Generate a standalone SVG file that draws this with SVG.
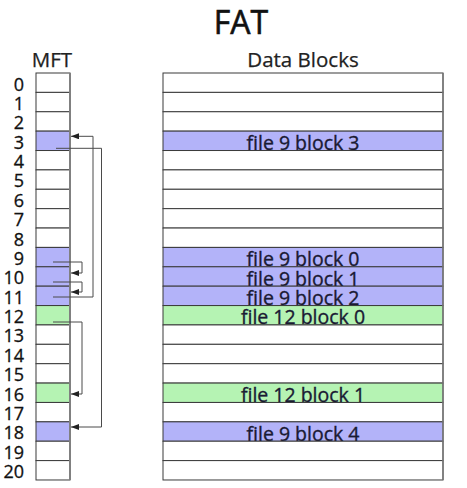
<svg xmlns="http://www.w3.org/2000/svg" width="467" height="488" viewBox="0 0 467 488">
<defs>
<style>
.t{font-family:"Open Sans","Liberation Sans",sans-serif;fill:#111}
.title{font-size:32px;text-anchor:middle;stroke:#111;stroke-width:0.6}
.hdr{font-size:20.5px;text-anchor:middle;fill:#222;stroke:#222;stroke-width:0.25}
.num{font-size:18px;text-anchor:end;fill:#111;stroke:#111;stroke-width:0.3}
.lbl{font-size:19.5px;text-anchor:middle;fill:#1a1a33;stroke:#1a1a33;stroke-width:0.35}
.r{fill:#fff;stroke:#3a3a3a;stroke-width:1}
.b{fill:#b3b3f9}
.g{fill:#b5f3b3}
.c{fill:none;stroke:#4a4a4a;stroke-width:1}
</style>
<marker id="ah" viewBox="0 0 8 6" refX="8" refY="3" markerWidth="8" markerHeight="6" markerUnits="userSpaceOnUse" orient="auto">
<path d="M0,0 L8,3 L0,6 z" fill="#222"/>
</marker>
</defs>
<rect width="467" height="488" fill="#fff"/>
<text class="t title" x="241" y="34">FAT</text>
<text class="t hdr" x="52" y="67">MFT</text>
<text class="t hdr" x="303" y="67">Data Blocks</text>

<g id="mft">
<g id="mft-0"><rect class="r" x="36" y="73" width="34" height="19.38"/><text class="t num" x="24" y="90.5">0</text></g>
<g id="mft-1"><rect class="r" x="36" y="92.38" width="34" height="19.38"/><text class="t num" x="24" y="109.9">1</text></g>
<g id="mft-2"><rect class="r" x="36" y="111.76" width="34" height="19.38"/><text class="t num" x="24" y="129.3">2</text></g>
<g id="mft-3"><rect class="r b" x="36" y="131.14" width="34" height="19.38"/><text class="t num" x="24" y="148.6">3</text></g>
<g id="mft-4"><rect class="r" x="36" y="150.52" width="34" height="19.38"/><text class="t num" x="24" y="168">4</text></g>
<g id="mft-5"><rect class="r" x="36" y="169.9" width="34" height="19.38"/><text class="t num" x="24" y="187.4">5</text></g>
<g id="mft-6"><rect class="r" x="36" y="189.28" width="34" height="19.38"/><text class="t num" x="24" y="206.8">6</text></g>
<g id="mft-7"><rect class="r" x="36" y="208.66" width="34" height="19.38"/><text class="t num" x="24" y="226.2">7</text></g>
<g id="mft-8"><rect class="r" x="36" y="228.04" width="34" height="19.38"/><text class="t num" x="24" y="245.5">8</text></g>
<g id="mft-9"><rect class="r b" x="36" y="247.42" width="34" height="19.38"/><text class="t num" x="24" y="264.9">9</text></g>
<g id="mft-10"><rect class="r b" x="36" y="266.8" width="34" height="19.38"/><text class="t num" x="24" y="284.3">10</text></g>
<g id="mft-11"><rect class="r b" x="36" y="286.18" width="34" height="19.38"/><text class="t num" x="24" y="303.7">11</text></g>
<g id="mft-12"><rect class="r g" x="36" y="305.56" width="34" height="19.38"/><text class="t num" x="24" y="323.1">12</text></g>
<g id="mft-13"><rect class="r" x="36" y="324.94" width="34" height="19.38"/><text class="t num" x="24" y="342.4">13</text></g>
<g id="mft-14"><rect class="r" x="36" y="344.32" width="34" height="19.38"/><text class="t num" x="24" y="361.8">14</text></g>
<g id="mft-15"><rect class="r" x="36" y="363.7" width="34" height="19.38"/><text class="t num" x="24" y="381.2">15</text></g>
<g id="mft-16"><rect class="r g" x="36" y="383.08" width="34" height="19.38"/><text class="t num" x="24" y="400.6">16</text></g>
<g id="mft-17"><rect class="r" x="36" y="402.46" width="34" height="19.38"/><text class="t num" x="24" y="420">17</text></g>
<g id="mft-18"><rect class="r b" x="36" y="421.84" width="34" height="19.38"/><text class="t num" x="24" y="439.3">18</text></g>
<g id="mft-19"><rect class="r" x="36" y="441.22" width="34" height="19.38"/><text class="t num" x="24" y="458.7">19</text></g>
<g id="mft-20"><rect class="r" x="36" y="460.6" width="34" height="19.38"/><text class="t num" x="24" y="478.1">20</text></g>
<line x1="70" y1="73" x2="70" y2="480" stroke="#808080" stroke-width="2"/>
</g>

<g id="data">
<g id="blk-0"><rect class="r" x="163" y="73" width="280" height="19.38"/></g>
<g id="blk-1"><rect class="r" x="163" y="92.38" width="280" height="19.38"/></g>
<g id="blk-2"><rect class="r" x="163" y="111.76" width="280" height="19.38"/></g>
<g id="blk-3"><rect class="r b" x="163" y="131.14" width="280" height="19.38"/><text class="t lbl" x="303" y="150">file 9 block 3</text></g>
<g id="blk-4"><rect class="r" x="163" y="150.52" width="280" height="19.38"/></g>
<g id="blk-5"><rect class="r" x="163" y="169.9" width="280" height="19.38"/></g>
<g id="blk-6"><rect class="r" x="163" y="189.28" width="280" height="19.38"/></g>
<g id="blk-7"><rect class="r" x="163" y="208.66" width="280" height="19.38"/></g>
<g id="blk-8"><rect class="r" x="163" y="228.04" width="280" height="19.38"/></g>
<g id="blk-9"><rect class="r b" x="163" y="247.42" width="280" height="19.38"/><text class="t lbl" x="303" y="266.3">file 9 block 0</text></g>
<g id="blk-10"><rect class="r b" x="163" y="266.8" width="280" height="19.38"/><text class="t lbl" x="303" y="285.7">file 9 block 1</text></g>
<g id="blk-11"><rect class="r b" x="163" y="286.18" width="280" height="19.38"/><text class="t lbl" x="303" y="305">file 9 block 2</text></g>
<g id="blk-12"><rect class="r g" x="163" y="305.56" width="280" height="19.38"/><text class="t lbl" x="303" y="324.4">file 12 block 0</text></g>
<g id="blk-13"><rect class="r" x="163" y="324.94" width="280" height="19.38"/></g>
<g id="blk-14"><rect class="r" x="163" y="344.32" width="280" height="19.38"/></g>
<g id="blk-15"><rect class="r" x="163" y="363.7" width="280" height="19.38"/></g>
<g id="blk-16"><rect class="r g" x="163" y="383.08" width="280" height="19.38"/><text class="t lbl" x="303" y="401.9">file 12 block 1</text></g>
<g id="blk-17"><rect class="r" x="163" y="402.46" width="280" height="19.38"/></g>
<g id="blk-18"><rect class="r b" x="163" y="421.84" width="280" height="19.38"/><text class="t lbl" x="303" y="440.7">file 9 block 4</text></g>
<g id="blk-19"><rect class="r" x="163" y="441.22" width="280" height="19.38"/></g>
<g id="blk-20"><rect class="r" x="163" y="460.6" width="280" height="19.38"/></g>
<line x1="443" y1="73" x2="443" y2="480" stroke="#7a7a7a" stroke-width="1.5"/>
</g>

<g id="connectors">
<path class="c" d="M56,148.3 H101.5 V427 H71" marker-end="url(#ah)"/>
<path class="c" d="M53,297 H93 V136.3 H71" marker-end="url(#ah)"/>
<path class="c" d="M53,262 H82 V273 H71" marker-end="url(#ah)"/>
<path class="c" d="M53,282 H82 V292 H71" marker-end="url(#ah)"/>
<path class="c" d="M53,322 H82 V394 H71" marker-end="url(#ah)"/>
</g>
</svg>
